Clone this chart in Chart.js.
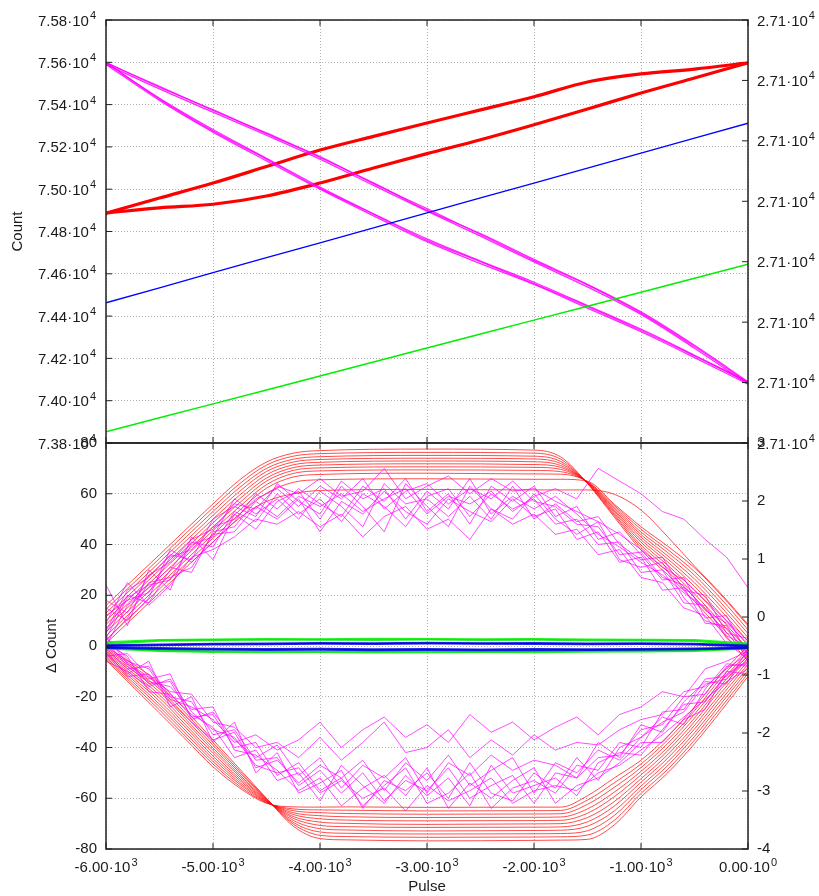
<!DOCTYPE html>
<html>
<head>
<meta charset="utf-8">
<title>Count vs Pulse</title>
<script src="https://cdn.jsdelivr.net/npm/chart.js@4.4.1/dist/chart.umd.min.js"></script>
<style>
  html, body { margin: 0; background: #fff; }
  #wrap { position: relative; width: 819px; height: 896px; }
  #wrap canvas { position: absolute; left: 0; top: 0; }
</style>
</head>
<body>
<div id="wrap">
  <canvas id="countChart" width="819" height="896"></canvas>
  <canvas id="deltaChart" width="819" height="896"></canvas>
</div>
<script>
// ---- top panel: raw counts ----
const topPulse = [-6000, -5500, -5000, -4500, -4000, -3500, -3000, -2500, -2000, -1500, -1000, -500, 0];
const redUpTop = [74887, 74958, 75029, 75107, 75185, 75250, 75313, 75375, 75437, 75507, 75545, 75568, 75597];
const redLowTop = [74887, 74912, 74929, 74968, 75029, 75100, 75168, 75234, 75305, 75379, 75455, 75526, 75597];
const magUpTop = [
    [75597, 75486, 75372, 75266, 75150, 75030, 74900, 74790, 74668, 74550, 74420, 74262, 74090],
    [75590, 75474, 75364, 75255, 75142, 75018, 74896, 74778, 74656, 74538, 74408, 74248, 74078],
    [75600, 75482, 75376, 75262, 75154, 75026, 74908, 74786, 74662, 74548, 74414, 74256, 74086]
];
const magLowTop = [
    [75597, 75430, 75282, 75146, 75010, 74884, 74765, 74660, 74560, 74450, 74338, 74215, 74090],
    [75590, 75420, 75270, 75134, 75000, 74874, 74752, 74648, 74550, 74438, 74326, 74204, 74078],
    [75600, 75426, 75276, 75142, 75004, 74882, 74758, 74657, 74554, 74446, 74332, 74212, 74086]
];
const blueTop = [74463, 74534, 74605, 74676, 74746, 74817, 74888, 74959, 75029, 75100, 75171, 75241, 75312];
const greenTop = [73853, 73919, 73985, 74051, 74117, 74183, 74249, 74315, 74381, 74447, 74513, 74579, 74645];

// ---- bottom panel: delta counts ----
const upPulse = [-6000, -5500, -5000, -4750, -4500, -4250, -4000, -3000, -2000, -1750, -1500, -1250, -1000, -750, -500, -250, 0];
const redUp = [
    [16, 36, 56, 65.5, 72.5, 76, 77, 77.6, 77.2, 74.5, 64.0, 50.8, 37.8, 28.1, 17.6, 6.0, -6.0],
    [14.5, 34.5, 54.5, 64, 71.3, 74.8, 75.8, 76.3, 76.0, 73.6, 64.1, 51.4, 38.8, 29.3, 19.1, 7.6, -4.4],
    [13, 33, 53, 62.5, 70, 73.6, 74.6, 75.1, 74.8, 72.7, 64.2, 51.9, 39.8, 30.6, 20.5, 9.1, -2.9],
    [11.5, 31.5, 51.5, 61, 68.8, 72.5, 73.5, 74.0, 73.7, 71.9, 64.3, 52.5, 40.9, 31.8, 22.0, 10.7, -1.3],
    [10, 30, 50, 59.5, 67.5, 71.4, 72.4, 72.9, 72.6, 71.1, 64.4, 53.1, 41.9, 33.1, 23.5, 12.2, 0.2],
    [8.5, 28.5, 48.5, 58, 66.2, 70.3, 71.3, 71.8, 71.5, 70.4, 64.5, 53.6, 42.9, 34.3, 24.9, 13.8, 1.8],
    [7, 27, 47, 56.5, 65, 69.2, 70.2, 70.6, 70.4, 69.6, 64.6, 54.2, 43.9, 35.5, 26.4, 15.4, 3.3],
    [5.5, 25.5, 45.5, 55, 63.6, 68, 69, 69.4, 69.2, 68.7, 64.7, 54.8, 44.9, 36.8, 27.9, 16.9, 4.9],
    [4, 24, 44, 53.5, 62.2, 66.6, 67.6, 68.1, 67.8, 67.7, 64.8, 55.4, 46.0, 38.0, 29.3, 18.5, 6.4],
    [2.5, 22.5, 42.5, 52, 60.2, 64.5, 65.5, 65.9, 65.7, 65.7, 64.9, 55.9, 47.0, 39.3, 30.8, 20.0, 8.0],
    [1, 21, 41, 50.5, 57, 60, 61.3, 61.7, 61.5, 61.5, 61.5, 59.8, 53.6, 43, 31.5, 20.5, 8.5]
];
const lowPulse = [-6000, -5750, -5500, -5250, -5000, -4750, -4500, -4250, -4000, -3750, -3000, -2000, -1750, -1500, -1250, -1000, -750, -500, -250, 0];
const redLow = [
    [-0.3, -7, -14.6, -25.5, -37, -48.5, -60, -71.0, -75.9, -76.4, -76.8, -76.6, -76.5, -76.2, -70.5, -59.5, -50, -38.5, -25.5, -12],
    [-0.8, -7.9, -15.8, -26.7, -38.1, -49.3, -60.2, -70.2, -74.6, -75.1, -75.4, -75.3, -75.2, -74.5, -68.7, -58.1, -48.6, -37.1, -24.1, -10.8],
    [-1.3, -8.8, -17.0, -27.8, -39.1, -50, -60.4, -69.5, -73.3, -73.8, -74.1, -74.0, -73.9, -72.8, -66.8, -56.6, -47.1, -35.6, -22.6, -9.6],
    [-1.9, -9.7, -18.1, -29.0, -40.2, -50.8, -60.6, -68.7, -72.0, -72.5, -72.9, -72.7, -72.6, -71.0, -65.0, -55.2, -45.7, -34.2, -21.2, -8.4],
    [-2.4, -10.6, -19.3, -30.1, -41.2, -51.5, -60.8, -67.9, -70.7, -71.2, -71.5, -71.4, -71.3, -69.3, -63.1, -53.7, -44.2, -32.7, -19.7, -7.2],
    [-2.9, -11.5, -20.5, -31.3, -42.3, -52.3, -61, -67.2, -69.4, -69.9, -70.3, -70.1, -70.0, -67.6, -61.3, -52.3, -42.8, -31.3, -18.3, -6],
    [-3.4, -12.4, -21.7, -32.4, -43.4, -53, -61.2, -66.4, -68.1, -68.6, -68.9, -68.8, -68.7, -65.9, -59.4, -50.8, -41.3, -29.8, -16.8, -4.8],
    [-3.9, -13.3, -22.9, -33.6, -44.4, -53.8, -61.4, -65.7, -66.9, -67.3, -67.6, -67.5, -67.4, -64.2, -57.6, -49.4, -39.9, -28.4, -15.4, -3.6],
    [-4.5, -14.2, -24.0, -34.7, -45.5, -54.5, -61.6, -64.9, -65.7, -66.0, -66.3, -66.2, -66.1, -62.4, -55.7, -47.9, -38.4, -26.9, -13.9, -2.4],
    [-5.0, -15.1, -25.2, -35.9, -46.5, -55.3, -61.8, -64.2, -64.6, -64.7, -65.0, -64.9, -64.8, -60.7, -53.9, -46.5, -37.0, -25.5, -12.5, -1.2],
    [-5.5, -16, -26.4, -37, -47.6, -56, -62, -63.4, -63.5, -63.4, -63.6, -63.5, -63.5, -59.0, -52, -45, -35.5, -24, -11, 0]
];
const noisePulse = [-6000, -5800, -5600, -5400, -5200, -5000, -4800, -4600, -4400, -4200, -4000, -3800, -3600, -3400, -3200,
    -3000, -2800, -2600, -2400, -2200, -2000, -1800, -1600, -1400, -1200, -1000, -800, -600, -400, -200, 0];
const magUp = [
    [12, 18, 21, 35, 38, 47, 50, 58, 62, 55, 63, 58, 66, 54, 61, 64, 56, 62, 58, 65, 57, 55, 48, 47, 36, 37, 27, 24, 14, 9, 1],
    [5, 20, 17, 30, 41, 39, 53, 49, 60, 52, 58, 49, 60, 55, 47, 59, 62, 51, 60, 54, 58, 48, 50, 40, 41, 29, 30, 17, 16, 3, -3],
    [2, 11, 25, 27, 31, 44, 45, 55, 50, 58, 45, 57, 52, 61, 53, 48, 58, 53, 49, 58, 51, 54, 42, 45, 33, 35, 22, 23, 9, 8, -6],
    [18, 13, 28, 33, 42, 46, 56, 54, 63, 60, 66, 59, 61, 70, 58, 63, 67, 60, 66, 61, 62, 57, 53, 49, 44, 38, 31, 26, 18, 10, 2],
    [9, 25, 16, 24, 35, 38, 43, 50, 48, 53, 47, 52, 43, 51, 55, 46, 50, 42, 54, 48, 52, 44, 46, 36, 38, 27, 25, 15, 12, 1, -5],
    [24, 8, 30, 22, 43, 34, 52, 46, 57, 61, 50, 63, 55, 45, 64, 55, 47, 63, 54, 50, 60, 50, 44, 49, 34, 31, 33, 19, 10, 7, -1],
    [0, 16, 23, 31, 29, 45, 47, 57, 51, 59, 55, 60, 53, 58, 62, 52, 59, 56, 61, 53, 59, 62, 58, 70, 65, 60, 53, 50, 42, 35, 23],
    [6, 22, 27, 36, 34, 50, 55, 51, 64, 57, 52, 65, 58, 62, 50, 61, 54, 66, 52, 59, 54, 59, 52, 44, 39, 33, 28, 21, 15, 4, 0],
    [15, 10, 19, 38, 33, 41, 49, 60, 54, 62, 56, 51, 63, 57, 66, 53, 60, 48, 63, 57, 63, 51, 55, 42, 45, 36, 26, 27, 11, 12, -4],
    [3, 19, 24, 26, 40, 43, 58, 52, 58, 50, 61, 55, 47, 64, 56, 58, 51, 59, 50, 63, 50, 56, 49, 51, 40, 34, 35, 22, 20, 5, 3]
];
const magLow = [
    [-1, -9, -8, -20, -22, -35, -33, -45, -44, -55, -49, -58, -50, -61, -53, -57, -48, -60, -55, -51, -62, -50, -52, -44, -43, -33, -31, -20, -19, -8, -7],
    [3, -5, -15, -14, -28, -27, -40, -38, -51, -46, -57, -52, -63, -55, -48, -62, -58, -50, -64, -56, -53, -58, -47, -49, -38, -40, -26, -25, -13, -12, -4],
    [-4, -3, -12, -18, -19, -30, -32, -40, -38, -44, -36, -45, -38, -30, -42, -40, -33, -44, -37, -43, -35, -41, -38, -39, -33, -29, -27, -18, -16, -9, -3],
    [-6, -10, -16, -13, -26, -33, -36, -47, -50, -48, -58, -53, -60, -56, -65, -55, -61, -57, -52, -62, -57, -55, -57, -50, -47, -41, -35, -28, -21, -14, -9],
    [0, -6, -9, -21, -24, -29, -38, -35, -41, -37, -30, -40, -33, -28, -36, -31, -38, -27, -34, -30, -37, -32, -28, -35, -27, -24, -18, -20, -9, -6, -2],
    [-2, -12, -11, -22, -30, -37, -34, -48, -45, -54, -47, -52, -45, -57, -46, -53, -43, -55, -49, -44, -58, -46, -50, -41, -45, -36, -30, -26, -15, -13, -5],
    [2, -8, -14, -16, -25, -24, -41, -43, -49, -57, -52, -63, -56, -51, -59, -48, -64, -54, -60, -53, -48, -62, -55, -52, -46, -38, -38, -29, -25, -10, -11],
    [1, -4, -18, -19, -27, -32, -44, -41, -53, -50, -61, -47, -55, -62, -51, -59, -52, -63, -47, -58, -55, -52, -59, -46, -42, -43, -33, -23, -22, -11, -6],
    [-3, -11, -6, -24, -20, -38, -30, -50, -42, -58, -54, -49, -64, -53, -57, -50, -60, -46, -58, -61, -50, -56, -44, -53, -40, -36, -28, -31, -17, -7, -8],
    [4, -7, -13, -11, -29, -26, -37, -44, -39, -51, -44, -56, -47, -52, -44, -58, -46, -51, -43, -49, -45, -47, -52, -38, -44, -31, -34, -22, -14, -15, -1]
];
const flatPulse = [-6000, -5500, -5000, -4500, -4000, -3500, -3000, -2500, -2000, -1500, -1000, -500, 0];
const greenFlat = [
    [1.5, 2.4, 2.6, 2.8, 2.7, 2.9, 2.8, 2.7, 2.8, 2.6, 2.5, 2.4, 1.0],
    [0.8, 2.1, 2.4, 2.5, 2.5, 2.4, 2.6, 2.4, 2.5, 2.3, 2.2, 2.0, 0.5],
    [-0.5, -1.8, -2.1, -2.2, -2.3, -2.1, -2.2, -2.3, -2.1, -2.0, -1.9, -1.7, -0.8],
    [-1, -2.0, -2.4, -2.5, -2.4, -2.6, -2.5, -2.4, -2.5, -2.3, -2.2, -2.0, -1.0]
];
const blueFlat = [
    [0.3, 0.6, 0.9, 1.0, 1.2, 1.1, 1.3, 1.1, 1.2, 1.0, 1.1, 0.9, 0.2],
    [0.0, 0.3, 0.6, 0.7, 0.9, 0.8, 1.0, 0.9, 0.8, 0.7, 0.8, 0.6, -0.2],
    [-0.5, -0.8, -1.1, -1.2, -1.1, -1.3, -1.2, -1.4, -1.2, -1.3, -1.2, -1.0, -0.6],
    [-0.8, -1.2, -1.4, -1.6, -1.5, -1.7, -1.6, -1.7, -1.7, -1.6, -1.5, -1.3, -0.9]
];

const FONT = '"Liberation Sans", Arial, sans-serif';
Chart.defaults.font.family = FONT;
Chart.defaults.font.size = 15;
Chart.defaults.color = '#1a1a1a';

const GRID = 'rgba(0, 0, 0, 0.3)';

function series(xs, ys, color, width, order, smooth) {
    return {
        data: xs.map((x, i) => ({ x: x, y: ys[i] })),
        borderColor: color,
        borderWidth: width,
        pointRadius: 0,
        fill: false,
        order: order,
        tension: 0,
        cubicInterpolationMode: smooth ? 'monotone' : 'default'
    };
}

// gnuplot-like frame with inward tick marks
const framePlugin = {
    id: 'frame',
    afterDraw(chart) {
        const { ctx, chartArea: a, scales } = chart;
        ctx.save();
        ctx.strokeStyle = '#222';
        ctx.lineWidth = 1;
        ctx.beginPath();
        scales.x.ticks.forEach(t => {
            const px = scales.x.getPixelForValue(t.value);
            ctx.moveTo(px, a.bottom); ctx.lineTo(px, a.bottom - 6);
            ctx.moveTo(px, a.top); ctx.lineTo(px, a.top + 6);
        });
        scales.y.ticks.forEach(t => {
            const py = scales.y.getPixelForValue(t.value);
            ctx.moveTo(a.left, py); ctx.lineTo(a.left + 6, py);
        });
        scales.y2.ticks.forEach(t => {
            const py = scales.y2.getPixelForValue(t.value);
            ctx.moveTo(a.right, py); ctx.lineTo(a.right - 6, py);
        });
        ctx.stroke();
        ctx.lineWidth = 1.5;
        ctx.strokeRect(a.left, a.top, a.right - a.left, a.bottom - a.top);
        ctx.restore();
    }
};

// tick labels like "7.58·10^4" with a raised exponent
function sciLabels(axes) {
    return {
        id: 'sciLabels',
        afterDraw(chart) {
            const ctx = chart.ctx;
            ctx.save();
            ctx.fillStyle = '#1a1a1a';
            ctx.textAlign = 'left';
            ctx.textBaseline = 'alphabetic';
            axes.forEach(ax => {
                const scale = chart.scales[ax.id];
                scale.ticks.forEach(t => {
                    const parts = ax.fmt(t.value);
                    const p = scale.getPixelForValue(t.value);
                    ctx.font = '15px ' + FONT;
                    const wb = ctx.measureText(parts[0]).width;
                    ctx.font = '11px ' + FONT;
                    const we = ctx.measureText(parts[1]).width;
                    let x0, base;
                    if (ax.side === 'left') { x0 = ax.at - wb - 1 - we; base = p + 5.5; }
                    else if (ax.side === 'right') { x0 = ax.at; base = p + 5.5; }
                    else { x0 = p - (wb + 1 + we) / 2; base = ax.at; }
                    ctx.font = '15px ' + FONT;
                    ctx.fillText(parts[0], x0, base);
                    ctx.font = '11px ' + FONT;
                    ctx.fillText(parts[1], x0 + wb + 1, base - 6.5);
                });
            });
            ctx.restore();
        }
    };
}

// Top chart
const topSets = [];
topSets.push(series(topPulse, redUpTop, '#ff0000', 3.2, 3, true));
topSets.push(series(topPulse, redLowTop, '#ff0000', 3.2, 3, true));
magUpTop.forEach(v => topSets.push(series(topPulse, v, 'rgba(255, 0, 255, 0.85)', 1.3, 2, true)));
magLowTop.forEach(v => topSets.push(series(topPulse, v, 'rgba(255, 0, 255, 0.85)', 1.3, 2, true)));
topSets.push(series(topPulse, blueTop, '#0000ff', 1.3, 1, false));
topSets.push(series(topPulse, greenTop, '#00ee00', 1.5, 1, false));

new Chart(document.getElementById('countChart'), {
    type: 'line',
    data: { datasets: topSets },
    options: {
        responsive: false,
        animation: false,
        events: [],
        layout: { padding: { left: 4, top: 20, right: 0, bottom: 453 } },
        plugins: { legend: { display: false }, tooltip: { enabled: false } },
        scales: {
            x: {
                type: 'linear', min: -6000, max: 0,
                ticks: { display: false, stepSize: 1000 },
                grid: { color: GRID, drawTicks: false },
                border: { display: false, dash: [1, 2] },
                afterFit: s => { s.height = 0; }
            },
            y: {
                position: 'left', min: 73800, max: 75800,
                ticks: { display: false, stepSize: 200 },
                grid: { color: GRID, drawTicks: false },
                border: { display: false, dash: [1, 2] },
                title: { display: true, text: 'Count', padding: { top: 5, bottom: 0 } },
                afterFit: s => { s.width = 102; }
            },
            y2: {
                position: 'right', min: 0, max: 7,
                ticks: { display: false, stepSize: 1 },
                grid: { display: false, drawTicks: false },
                border: { display: false },
                afterFit: s => { s.width = 71; }
            }
        }
    },
    plugins: [framePlugin, sciLabels([
        { id: 'y', side: 'left', at: 96, fmt: v => [(v / 10000).toFixed(2) + '\u00b710', '4'] },
        { id: 'y2', side: 'right', at: 757, fmt: () => ['2.71\u00b710', '4'] }
    ])]
});

// Bottom chart
const deltaSets = [];
redUp.forEach(v => deltaSets.push(series(upPulse, v, 'rgba(255, 0, 0, 0.7)', 1, 4, true)));
redLow.forEach(v => deltaSets.push(series(lowPulse, v, 'rgba(255, 0, 0, 0.7)', 1, 4, true)));
magUp.forEach(v => deltaSets.push(series(noisePulse, v, 'rgba(255, 0, 255, 0.7)', 1, 3, false)));
magLow.forEach(v => deltaSets.push(series(noisePulse, v, 'rgba(255, 0, 255, 0.7)', 1, 3, false)));
greenFlat.forEach(v => deltaSets.push(series(flatPulse, v, 'rgba(0, 238, 0, 0.85)', 2, 2, false)));
blueFlat.forEach(v => deltaSets.push(series(flatPulse, v, 'rgba(0, 0, 230, 0.85)', 2, 1, false)));

new Chart(document.getElementById('deltaChart'), {
    type: 'line',
    data: { datasets: deltaSets },
    options: {
        responsive: false,
        animation: false,
        events: [],
        layout: { padding: { left: 40, top: 443, right: 0, bottom: 0 } },
        plugins: { legend: { display: false }, tooltip: { enabled: false } },
        scales: {
            x: {
                type: 'linear', min: -6000, max: 0,
                ticks: { display: false, stepSize: 1000 },
                grid: { color: GRID, drawTicks: false },
                border: { display: false, dash: [1, 2] },
                title: { display: true, text: 'Pulse', padding: { top: 0, bottom: 0 } },
                afterFit: s => { s.height = 47; }
            },
            y: {
                position: 'left', min: -80, max: 80,
                ticks: { stepSize: 20, padding: 9 },
                grid: { color: GRID, drawTicks: false },
                border: { display: false, dash: [1, 2] },
                title: { display: true, text: '\u0394 Count', padding: { top: 3, bottom: 0 } },
                afterFit: s => { s.width = 66; }
            },
            y2: {
                position: 'right', min: -4, max: 3,
                ticks: { stepSize: 1, padding: 9 },
                grid: { display: false, drawTicks: false },
                border: { display: false },
                afterFit: s => { s.width = 71; }
            }
        }
    },
    plugins: [framePlugin, sciLabels([
        { id: 'x', side: 'bottom', at: 872, fmt: v => v === 0 ? ['0.00\u00b710', '0'] : [(v / 1000).toFixed(2) + '\u00b710', '3'] }
    ])]
});
</script>
</body>
</html>
